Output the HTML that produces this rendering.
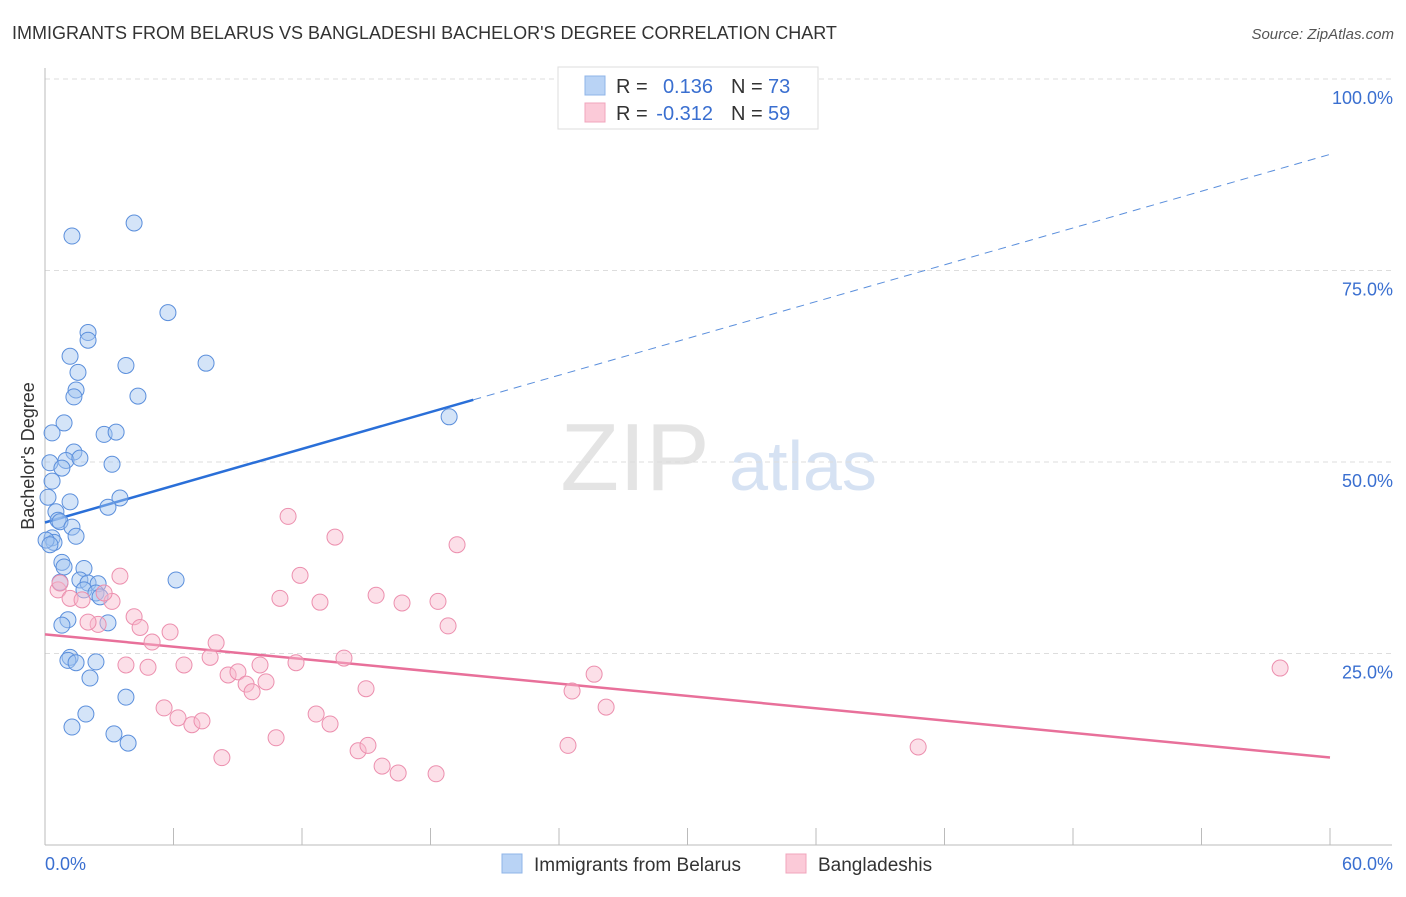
<!DOCTYPE html>
<html><head><meta charset="utf-8"><style>
body{margin:0;background:#fff;font-family:"Liberation Sans",sans-serif;}
svg text{font-family:"Liberation Sans",sans-serif;}
</style></head><body>
<svg id="chart" width="1406" height="892" xmlns="http://www.w3.org/2000/svg">
<text x="12" y="39" font-size="18" fill="#333">IMMIGRANTS FROM BELARUS VS BANGLADESHI BACHELOR'S DEGREE CORRELATION CHART</text>
<text x="1394" y="39" font-size="15" fill="#555" font-style="italic" text-anchor="end">Source: ZipAtlas.com</text>
<text transform="translate(34,456) rotate(-90)" font-size="18" fill="#333" text-anchor="middle">Bachelor's Degree</text>
<g>
<text x="635" y="490" font-size="96" font-family="Liberation Serif" fill="#e4e4e4" text-anchor="middle">ZIP</text>
<text x="803" y="490" font-size="70" fill="#d6e2f3" text-anchor="middle">atlas</text>
</g>
<g id="grid"></g><g id="axes"></g><g id="lines"></g><g id="pts"></g>
<g>
<rect x="558" y="67" width="260" height="62" fill="#fff" stroke="#ddd"/>
<rect x="585" y="76" width="20" height="19" fill="#b9d3f5" stroke="#8fb4e8"/>
<rect x="585" y="103" width="20" height="19" fill="#fbcad8" stroke="#f0a5bc"/>
<text x="616" y="93" font-size="20" fill="#333">R =</text>
<text x="713" y="93" font-size="20" fill="#3a6fd0" text-anchor="end">0.136</text>
<text x="731" y="93" font-size="20" fill="#333">N =</text>
<text x="768" y="93" font-size="20" fill="#3a6fd0">73</text>
<text x="616" y="120" font-size="20" fill="#333">R =</text>
<text x="713" y="120" font-size="20" fill="#3a6fd0" text-anchor="end">-0.312</text>
<text x="731" y="120" font-size="20" fill="#333">N =</text>
<text x="768" y="120" font-size="20" fill="#3a6fd0">59</text>
</g>
<g>
<rect x="502" y="854" width="20" height="19" fill="#b9d3f5" stroke="#8fb4e8"/>
<text x="534" y="871" font-size="19" fill="#333">Immigrants from Belarus</text>
<rect x="786" y="854" width="20" height="19" fill="#fbcad8" stroke="#f0a5bc"/>
<text x="818" y="871" font-size="19" fill="#333">Bangladeshis</text>
</g>
</svg>
<script>
const yTicks=[25,50,75,100];
const yTickLabels=["25.0%","50.0%","75.0%","100.0%"];
const xTickValues=[0,6,12,18,24,30,36,42,48,54,60];
const blueX=[1.26,4.16,5.74,2.01,2.01,1.17,3.78,7.52,1.54,1.45,1.35,4.34,0.89,0.33,2.76,3.32,1.35,0.98,1.63,0.23,0.79,3.13,0.33,0.14,1.17,3.50,2.94,0.51,0.61,0.70,1.26,1.45,0.33,0.42,0.79,0.89,1.82,6.12,1.63,0.70,2.01,2.48,1.82,2.38,2.57,2.94,1.07,0.79,1.17,1.07,2.38,1.45,2.10,3.78,1.91,1.26,3.22,3.88,18.87,0.05,0.23];
const blueY=[79.5,81.2,69.5,66.9,65.9,63.8,62.6,62.9,61.7,59.4,58.5,58.6,55.1,53.8,53.6,53.9,51.3,50.2,50.5,49.9,49.2,49.7,47.5,45.4,44.8,45.3,44.1,43.5,42.4,42.2,41.5,40.3,40.1,39.5,36.9,36.3,36.1,34.6,34.6,34.3,34.2,34.1,33.3,32.9,32.4,29.0,29.4,28.7,24.5,24.1,23.9,23.8,21.8,19.3,17.1,15.4,14.5,13.3,55.9,39.8,39.2];
const pinkX=[0.61,0.70,3.50,1.17,1.73,3.13,2.76,2.48,4.16,4.44,5.84,5.00,7.99,3.78,4.81,6.49,7.71,8.55,9.01,9.39,10.04,10.32,9.67,11.72,10.97,11.35,11.91,12.84,13.54,13.96,15.46,16.67,18.35,18.82,19.24,14.99,5.56,6.21,6.86,7.33,8.26,10.79,12.66,13.31,14.62,15.08,15.74,16.49,18.26,24.42,24.61,25.64,26.20,40.77,57.67,2.01];
const pinkY=[33.3,34.2,35.1,32.2,32.0,31.8,32.9,28.8,29.8,28.4,27.8,26.5,26.4,23.5,23.2,23.5,24.5,22.2,22.6,21.0,23.5,21.3,20.0,23.8,32.2,42.9,35.2,31.7,40.2,24.4,32.6,31.6,31.8,28.6,39.2,20.4,17.9,16.6,15.7,16.2,11.4,14.0,17.1,15.8,12.3,13.0,10.3,9.4,9.3,13.0,20.1,22.3,18.0,12.8,23.1,29.1];
const blueFit=[42.1,0.801];
const pinkFit=[27.5,-0.268];
const NS="http://www.w3.org/2000/svg";
const X0=45,X1=1330,Y0=845,Y100=79;
const sx=v=>X0+(X1-X0)*v/60;
const sy=v=>Y0-(Y0-Y100)*v/100;
function mk(parent,tag,attrs){const e=document.createElementNS(NS,tag);for(const k in attrs)e.setAttribute(k,attrs[k]);document.getElementById(parent).appendChild(e);return e;}
yTicks.forEach((t,i)=>{
 const l=mk('grid','line',{x1:X0,x2:1392,y1:sy(t),y2:sy(t),stroke:'#ddd','stroke-dasharray':'5,4'});
 
 
 const tx=mk('grid','text',{x:1393,y:sy(t)+25,'font-size':18,fill:'#3a6fd0','text-anchor':'end'});
 tx.textContent=yTickLabels[i];
 
 
});
const ax=mk('axes','line',{x1:X0,x2:X0,y1:68,y2:Y0,stroke:'#bbb'});


const bx=mk('axes','line',{x1:X0,x2:1392,y1:Y0,y2:Y0,stroke:'#bbb'});


xTickValues.forEach(v=>{
 const t=mk('axes','line',{x1:sx(v),x2:sx(v),y1:Y0,y2:828,stroke:'#bbb'});
 
 
});
const xl0=mk('axes','text',{x:45,y:870,'font-size':18,fill:'#3a6fd0'});xl0.textContent='0.0%';


const xl1=mk('axes','text',{x:1393,y:870,'font-size':18,fill:'#3a6fd0','text-anchor':'end'});xl1.textContent='60.0%';


blueX.forEach((x,i)=>{
 const c=mk('pts','circle',{cx:sx(x),cy:sy(blueY[i]),r:8,fill:'rgba(160,195,240,0.45)',stroke:'#5b8fdc','stroke-width':1});
 
 
});
pinkX.forEach((x,i)=>{
 const c=mk('pts','circle',{cx:sx(x),cy:sy(pinkY[i]),r:8,fill:'rgba(248,185,205,0.45)',stroke:'#ec8fae','stroke-width':1});
 
 
});
const f=(fit,x)=>fit[0]+fit[1]*x;
const b1=mk('lines','line',{x1:sx(0),y1:sy(f(blueFit,0)),x2:sx(20),y2:sy(f(blueFit,20)),stroke:'#2a6fd8','stroke-width':2.5});


const b2=mk('lines','line',{x1:sx(20),y1:sy(f(blueFit,20)),x2:sx(60),y2:sy(f(blueFit,60)),stroke:'#5b8fdc','stroke-width':1,'stroke-dasharray':'8,6'});


const p1=mk('lines','line',{x1:sx(0),y1:sy(f(pinkFit,0)),x2:sx(60),y2:sy(f(pinkFit,60)),stroke:'#e8709a','stroke-width':2.5});


</script>
</body></html>
